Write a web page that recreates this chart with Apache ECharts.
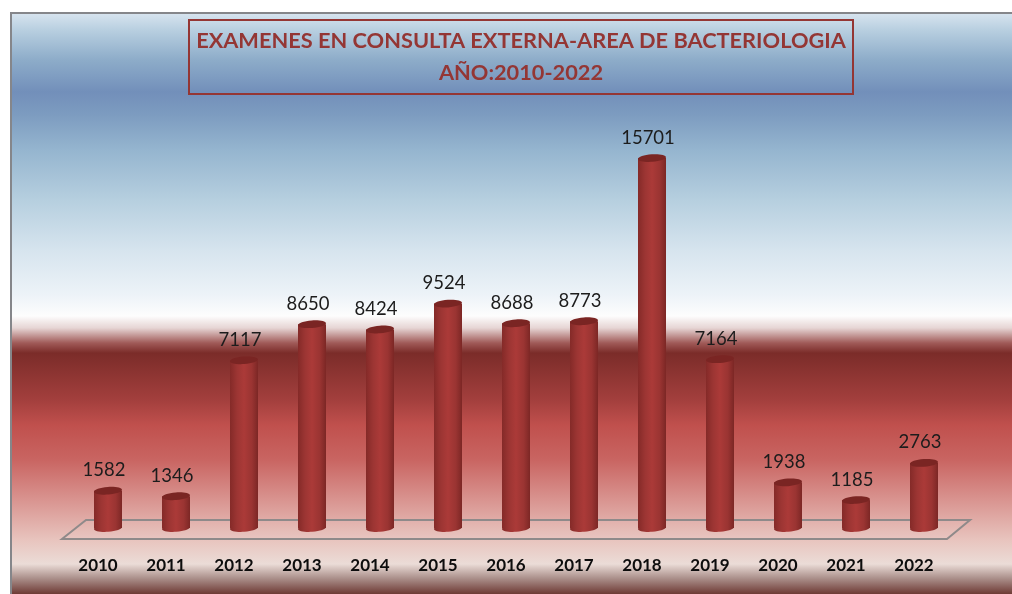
<!DOCTYPE html>
<html><head><meta charset="utf-8">
<style>html,body{margin:0;padding:0;background:#fff}#c{width:1012px;height:594px}</style>
<script src="https://cdn.jsdelivr.net/npm/echarts@6/dist/echarts.min.js"></script>
</head><body><div id="c"></div>
<script>
var years = ['2010','2011','2012','2013','2014','2015','2016','2017','2018','2019','2020','2021','2022'];
var exams = [1582,1346,7117,8650,8424,9524,8688,8773,15701,7164,1938,1185,2763];
var titleLines = ['EXAMENES EN CONSULTA EXTERNA-AREA DE BACTERIOLOGIA','AÑO:2010-2022'];
var bgStops = [[14,'#d6e3ee'],[30,'#b8cfe0'],[60,'#8dacc9'],[92,'#728fba'],[115,'#7d9cc0'],[150,'#95b5cf'],[200,'#b6cfdf'],[250,'#d6e4ee'],[295,'#edf3f8'],[316,'#fdfdfd'],[328,'#e6d5d4'],[343,'#a05a58'],[353,'#7b2c29'],[400,'#a33f3d'],[425,'#c0504d'],[460,'#c96562'],[500,'#d99490'],[540,'#e8c4be'],[564,'#ebdcd7'],[578,'#ac918c'],[594,'#6e3a34']];

var chart = echarts.init(document.getElementById('c'), null, {renderer:'canvas'});
var F = 'Lato, "Open Sans", sans-serif';
var BAR_W = 28, RY = 3.8, TILT = 0.07, BAR_DX = 10;

function cylinder(params, api){
  var idx = api.value(0), val = api.value(1);
  var base = api.coord([idx,0]), top = api.coord([idx,val]);
  var cx = base[0] + BAR_DX, x = cx - BAR_W/2;
  var body = new echarts.graphic.LinearGradient(0,0,1,0,[
    {offset:0,color:'#842a28'},{offset:0.25,color:'#9c3533'},{offset:0.5,color:'#ab3a38'},{offset:0.78,color:'#9a3432'},{offset:1,color:'#7c2725'}]);
  return {type:'group',children:[
    {type:'ellipse',x:cx,y:base[1],rotation:TILT,shape:{cx:0,cy:0,rx:BAR_W/2,ry:RY},style:{fill:body}},
    {type:'rect',shape:{x:x,y:top[1],width:BAR_W,height:base[1]-top[1]},style:{fill:body}},
    {type:'ellipse',x:cx,y:top[1],rotation:TILT,shape:{cx:0,cy:0,rx:BAR_W/2,ry:RY},style:{fill:'#7a2523'}},
    {type:'text',x:cx-4,y:top[1]-20.5,style:{text:String(val),fill:'#1c1c1c',font:'18.5px '+F,align:'center',verticalAlign:'middle'}}
  ]};
}
function floorShape(params, api){
  var g = params.coordSys, b = g.y+g.height, l = g.x, r = g.x+g.width;
  return {type:'polygon',shape:{points:[[l-2,b+11],[l+22,b-8],[r+22,b-8],[r-1,b+11]]},
    style:{fill:'rgba(255,255,255,0.06)',stroke:'#8f8a8a',lineWidth:2}};
}

chart.setOption({
  animation:false,
  backgroundColor:'#ffffff',
  title:{text:titleLines.join('\n'),left:514,top:20,padding:[5,7,5,7],borderColor:'#943634',borderWidth:2,
    textAlign:'center',
    textStyle:{color:'#943634',fontFamily:F,fontWeight:'bold',fontSize:21.77,lineHeight:32}},
  graphic:[
    {type:'rect',z:-10,silent:true,shape:{x:10,y:12,width:1002,height:582},style:{fill:'#85868a'}},
    {type:'rect',z:-9,silent:true,shape:{x:12,y:14,width:1000,height:580},style:{fill:new echarts.graphic.LinearGradient(0,0,0,1,
      bgStops.map(function(s){return {offset:(s[0]-14)/580,color:s[1]};}))}}
  ],
  grid:{left:64,width:884,top:151,height:377},
  xAxis:{type:'category',data:years,axisLine:{show:false},axisTick:{show:false},
    axisLabel:{margin:29,color:'#0d0d0d',fontFamily:F,fontWeight:'bold',fontSize:17,interval:0}},
  yAxis:{type:'value',min:0,max:16000,show:false,splitLine:{show:false}},
  series:[
    {type:'custom',renderItem:floorShape,data:[0],silent:true,z:1,clip:false,encode:{x:0,y:0}},
    {type:'custom',renderItem:cylinder,z:2,clip:false,encode:{x:0,y:1},
      data:exams.map(function(v,i){return [i,v];})}
  ]
});
</script></body></html>
